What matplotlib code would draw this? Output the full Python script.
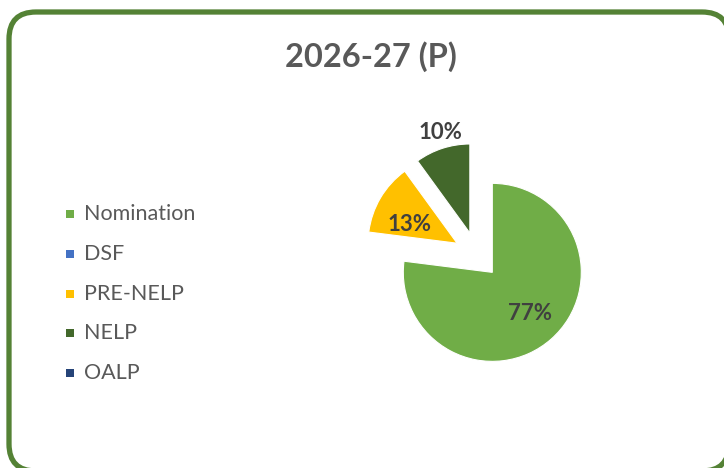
import numpy as np
import matplotlib
matplotlib.use('Agg')
import matplotlib.pyplot as plt
from matplotlib.patches import FancyBboxPatch, Rectangle

# data
categories = ['Nomination', 'DSF', 'PRE-NELP', 'NELP', 'OALP']
shares = [77, 0, 13, 10, 0]
colors = ['#70AD47', '#4472C4', '#FFC000', '#43682B', '#264478']
title = '2026-27 (P)'

# label placement from wedge centre (Excel "best fit"):
# distance as fraction of radius, and a small angular nudge in degrees
label_dist = [0.62, 0.6, 0.58, 1.18, 0.6]
label_turn = [1, 0, 9, -2, 0]

plt.rcParams['font.family'] = ['Lato', 'DejaVu Sans']

W, H = 724, 468
fig = plt.figure(figsize=(W / 100, H / 100), dpi=100)

# one axes in pixel units over the whole figure
ax = fig.add_axes([0, 0, 1, 1])

# rounded green frame (right and bottom edges sit just past the canvas)
frame = FancyBboxPatch((9, -3), 720, 459,
                       boxstyle='round,pad=0,rounding_size=27',
                       facecolor='white', edgecolor='#548235', linewidth=3.8,
                       zorder=0)
ax.add_patch(frame)

fig.text(371 / W, 1 - 57 / H, title, ha='center', va='center',
         fontsize=23.5, fontweight='bold', color='#595959')

# pie, every slice pulled out by ~26% of the radius
cx, cy, R = 477, H - 255, 89
wedges, _ = ax.pie(shares, colors=colors, startangle=90, counterclock=False,
                   explode=[0.26 * R] * len(shares), radius=R, center=(cx, cy),
                   wedgeprops=dict(edgecolor='white', linewidth=0.8),
                   frame=True)
ax.set_xlim(0, W)
ax.set_ylim(0, H)
ax.set_aspect('auto')
ax.axis('off')

for w, v, d, t in zip(wedges, shares, label_dist, label_turn):
    if v == 0:
        continue
    mid = np.deg2rad((w.theta1 + w.theta2) / 2 + t)
    wx, wy = w.center
    ax.text(wx + d * R * np.cos(mid), wy + d * R * np.sin(mid), f'{v}%',
            ha='center', va='center', fontsize=16, fontweight='bold',
            color='#404040')

# legend
leg_y = [214, 254, 294, 333, 373]
for name, c, y in zip(categories, colors, leg_y):
    ax.add_patch(Rectangle((66, H - y - 4), 8, 8, facecolor=c,
                           edgecolor='none'))
    ax.text(84, H - y, name, ha='left', va='center', fontsize=15.5,
            color='#595959')

fig.savefig('out.png', dpi=100)
